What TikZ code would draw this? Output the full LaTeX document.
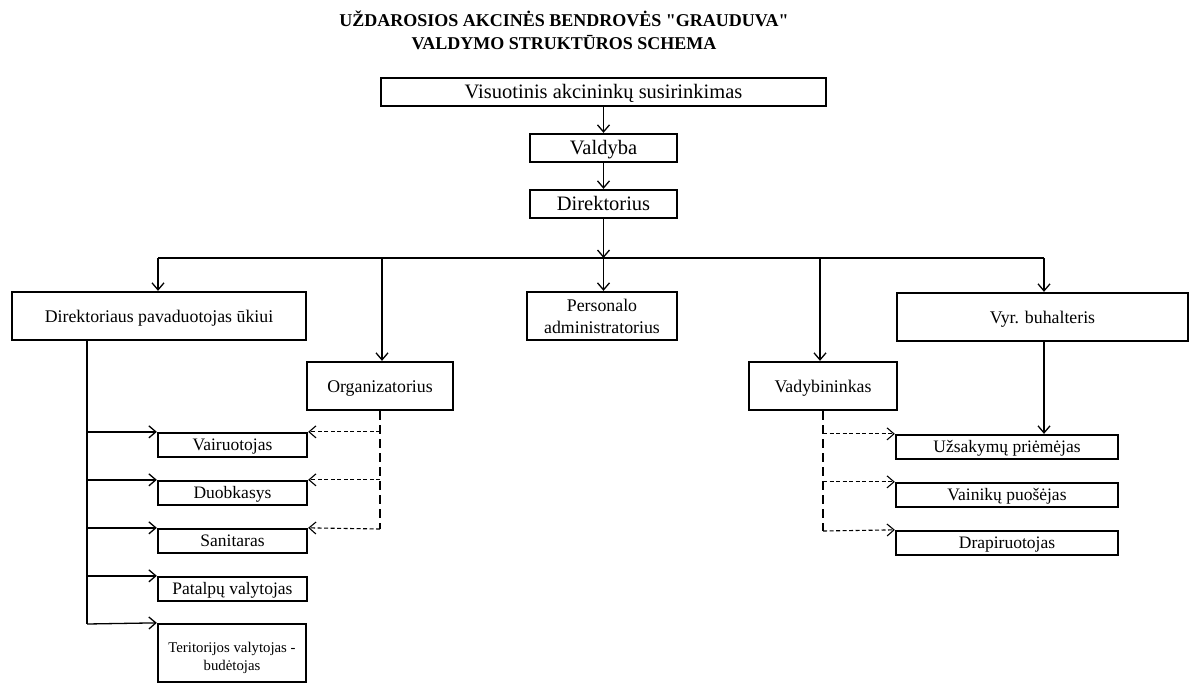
\documentclass[tikz,border=0pt]{standalone}
\usepackage{fontspec}
\setmainfont{Liberation Serif}[Ligatures=TeXOff]
\usetikzlibrary{arrows.meta}
\begin{document}
\begin{tikzpicture}[x=1pt,y=-1pt,
  box/.style={draw,line width=2.3pt,inner sep=0pt,align=center},
  big/.style={text height=14pt,text depth=2pt,font=\fontsize{20.5}{22}\selectfont},
  midone/.style={text height=14pt,text depth=2pt,font=\fontsize{17.8}{22}\selectfont},
  mid/.style={font=\fontsize{17.8}{22}\selectfont},
  sml/.style={text height=12pt,text depth=2pt,font=\fontsize{17.5}{20}\selectfont},
  tiny/.style={font=\fontsize{14.8}{18.5}\selectfont},
  conn/.style={line width=1.3pt,-{Straight Barb[length=7pt,width=12pt,line width=1.3pt]}},
  bus/.style={line width=1.3pt},
  dthick/.style={line width=2.4pt,dash pattern=on 9pt off 5pt},
  dthin/.style={line width=1.1pt,dash pattern=on 4pt off 2.5pt,-{Straight Barb[length=7pt,width=12pt,line width=1.1pt]}}
]
\useasboundingbox (0,0) rectangle (1196,683);
\node[font=\bfseries\fontsize{18}{23}\selectfont,align=center] (title) at (564,30)
  {UŽDAROSIOS AKCINĖS BENDROVĖS "GRAUDUVA"\\VALDYMO STRUKTŪROS SCHEMA};
% boxes
\node[box,big,minimum width=445pt,minimum height=28pt] (top) at (603.5,92) {Visuotinis akcininkų susirinkimas};
\node[box,big,minimum width=147pt,minimum height=28pt] (vald) at (603.5,148) {Valdyba};
\node[box,big,minimum width=147pt,minimum height=28pt] (dir) at (603.5,204) {Direktorius};
\node[box,midone,minimum width=294pt,minimum height=48pt] (pav) at (159,316) {Direktoriaus pavaduotojas ūkiui};
\node[box,midone,minimum width=146pt,minimum height=48pt] (org) at (380,386) {Organizatorius};
\node[box,mid,minimum width=150pt,minimum height=48pt] (pers) at (602,316) {Personalo\\administratorius};
\node[box,midone,minimum width=148pt,minimum height=48pt] (vad) at (823,386) {Vadybininkas};
\node[box,midone,minimum width=291pt,minimum height=48pt] (vyr) at (1042.5,317) {Vyr. buhalteris};
\node[box,sml,minimum width=222pt,minimum height=24pt] (uzs) at (1007,447) {Užsakymų priėmėjas};
\node[box,sml,minimum width=222pt,minimum height=24pt] (vain) at (1007,495) {Vainikų puošėjas};
\node[box,sml,minimum width=222pt,minimum height=24pt] (drap) at (1007,543) {Drapiruotojas};
\node[box,sml,minimum width=149pt,minimum height=24pt] (vair) at (232.5,445) {Vairuotojas};
\node[box,sml,minimum width=149pt,minimum height=24pt] (duob) at (232.5,493) {Duobkasys};
\node[box,sml,minimum width=149pt,minimum height=24pt] (sani) at (232.5,541) {Sanitaras};
\node[box,sml,minimum width=149pt,minimum height=24pt] (pata) at (232.5,589) {Patalpų valytojas};
\node[box,tiny,minimum width=148pt,minimum height=58pt] (teri) at (232,653) {\rule{0pt}{20pt}Teritorijos valytojas -\\budėtojas};
% top chain
\draw[conn] (top) -- (vald);
\draw[conn] (vald) -- (dir);
\coordinate (bM) at (603.5,258);
\coordinate (bL) at (158,258);
\coordinate (bR) at (1044,258);
\coordinate (bO) at (382,258);
\coordinate (bV) at (820,258);
\draw[conn] (dir) -- (bM);
\draw[bus] (bL) -- (bR);
\draw[conn] (bL) -- (bL |- pav.north);
\draw[conn] (bO) -- (bO |- org.north);
\draw[conn] (bM) -- (bM |- pers.north);
\draw[conn] (bV) -- (bV |- vad.north);
\draw[conn] (bR) -- (bR |- vyr.north);
\draw[conn] (bR |- vyr.south) -- (bR |- uzs.north);
% left trunk
\coordinate (lt) at (87,340);
\coordinate (lb) at (87,624);
\draw[bus] (lt) -- (lb);
\draw[conn] (lt |- vair.north) -- (vair.north west);
\draw[conn] (lt |- duob.north) -- (duob.north west);
\draw[conn] (lt |- sani.north) -- (sani.north west);
\draw[conn] (lt |- pata.north) -- (pata.north west);
\draw[conn] (lb) -- (teri.north west);
% organizatorius dashed
\coordinate (ob) at (380,529);
\draw[dthick] (org.south) -- (ob);
\draw[dthin] (ob |- vair.north) -- (vair.north east);
\draw[dthin] (ob |- duob.north) -- (duob.north east);
\draw[dthin] (ob) -- (sani.north east);
% vadybininkas dashed
\coordinate (vb) at (823,531);
\draw[dthick] (vad.south) -- (vb);
\draw[dthin] (vb |- uzs.north) -- (uzs.north west);
\draw[dthin] (vb |- vain.north) -- (vain.north west);
\draw[dthin] (vb) -- (drap.north west);
\end{tikzpicture}
\end{document}
